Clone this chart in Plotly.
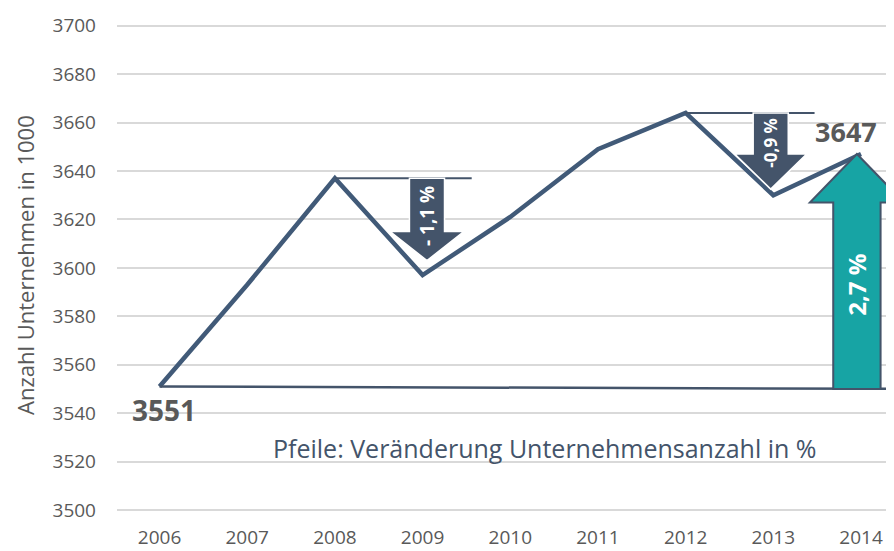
import plotly.graph_objects as go

# ---- data ----
years = [2006, 2007, 2008, 2009, 2010, 2011, 2012, 2013, 2014]
companies = [3551, 3593, 3637, 3597, 3621, 3649, 3664, 3630, 3647]
y_ticks = list(range(3500, 3701, 20))
arrow_labels = ["- 1,1 %", "-0,9 %", "2,7 %"]
y_title = "Anzahl Unternehmen in 1000"
note = "Pfeile: Veränderung Unternehmensanzahl in %"

v = dict(zip(years, companies))

LINE = "#415a78"
DARK = "#44546a"
TEAL = "#17a4a4"
GRAY = "#595959"
FONT = "Open Sans"

# page body has an 8px margin -> figure sized/positioned to compensate
W, H = 886, 543
L, T, R, B = 109, 2, 0, 27
PW, PH = W - L - R, H - T - B

fig = go.Figure()
fig.add_trace(go.Scatter(x=years, y=companies, mode="lines",
                         line=dict(color=LINE, width=4.5), hoverinfo="skip"))

def down_arrow(xc, top, tip, head_len, shaft_hw, head_hw):
    hs = tip + head_len
    return (f"M {xc-shaft_hw} {top} L {xc+shaft_hw} {top} L {xc+shaft_hw} {hs} "
            f"L {xc+head_hw} {hs} L {xc} {tip} L {xc-head_hw} {hs} L {xc-shaft_hw} {hs} Z")

def up_arrow(xc, base, tip, head_len, shaft_hw, head_hw):
    hs = tip - head_len
    return (f"M {xc-shaft_hw} {base} L {xc+shaft_hw} {base} L {xc+shaft_hw} {hs} "
            f"L {xc+head_hw} {hs} L {xc} {tip} L {xc-head_hw} {hs} L {xc-shaft_hw} {hs} Z")

shapes = []
base_level = v[2006]
shapes.append(dict(type="line", xref="x", yref="y", x0=2006, y0=base_level,
                   x1=2014.4, y1=base_level - 1, line=dict(color=DARK, width=2.5)))
shapes.append(dict(type="line", xref="x", yref="y", x0=2008, y0=v[2008],
                   x1=2009.56, y1=v[2008], line=dict(color=DARK, width=2)))
shapes.append(dict(type="line", xref="x", yref="y", x0=2012, y0=v[2012],
                   x1=2013.47, y1=v[2012], line=dict(color=DARK, width=2)))
shapes.append(dict(type="path", xref="x", yref="y",
                   path=down_arrow(2009.05, v[2008], v[2009] + 6, 12, 0.2, 0.42),
                   fillcolor=DARK, line=dict(color="white", width=1.5)))
shapes.append(dict(type="path", xref="x", yref="y",
                   path=down_arrow(2012.97, v[2012], v[2013] + 2.5, 14.5, 0.2, 0.41),
                   fillcolor=DARK, line=dict(color="white", width=1.5)))
shapes.append(dict(type="path", xref="x", yref="y",
                   path=up_arrow(2013.953, base_level - 1, v[2014], 20, 0.27, 0.536),
                   fillcolor=TEAL, line=dict(color=DARK, width=2)))

annotations = [
    dict(x=2009.05, y=3621.4, xref="x", yref="y", text=f"<b>{arrow_labels[0]}</b>",
         textangle=-90, showarrow=False, font=dict(family=FONT, size=19, color="white")),
    dict(x=2012.97, y=3651.6, xref="x", yref="y", text=f"<b>{arrow_labels[1]}</b>",
         textangle=-90, showarrow=False, font=dict(family=FONT, size=17, color="white")),
    dict(x=2013.953, y=3593, xref="x", yref="y", text=f"<b>{arrow_labels[2]}</b>",
         textangle=-90, showarrow=False, font=dict(family=FONT, size=24, color="white")),
    dict(x=2006, y=v[2006], xref="x", yref="y", text=f"<b>{v[2006]}</b>",
         showarrow=False, xshift=4, yshift=-24, font=dict(family=FONT, size=28, color=GRAY)),
    dict(x=2014, y=v[2014], xref="x", yref="y", text=f"<b>{v[2014]}</b>",
         showarrow=False, xshift=-15, yshift=23, font=dict(family=FONT, size=27, color=GRAY)),
    dict(x=2010.4, y=3525.5, xref="x", yref="y", text=note, showarrow=False,
         font=dict(family=FONT, size=25, color=DARK)),
    dict(x=(17 - L) / PW, y=(H - B - 257) / PH, xref="paper", yref="paper",
         xanchor="center", yanchor="middle", borderpad=0,
         text=y_title, textangle=-90, showarrow=False,
         font=dict(family=FONT, size=22, color=GRAY)),
]

fig.update_layout(
    width=W, height=H,
    margin=dict(l=L, r=R, t=T, b=B),
    plot_bgcolor="white", paper_bgcolor="white",
    showlegend=False,
    shapes=shapes, annotations=annotations,
    xaxis=dict(range=[2005.515, 2014.376], tickvals=years, ticktext=[str(y) for y in years],
               showgrid=False, zeroline=False, showline=False, ticks="",
               tickfont=dict(family=FONT, size=19, color=GRAY), automargin=False),
    yaxis=dict(range=[3494.2, 3706.5], tickvals=y_ticks, showgrid=True,
               gridcolor="#d9d9d9", gridwidth=1.5, zeroline=False, showline=False,
               ticks="", ticklabelstandoff=20,
               tickfont=dict(family=FONT, size=19, color=GRAY), automargin=False),
)

fig.write_html("out.html")
